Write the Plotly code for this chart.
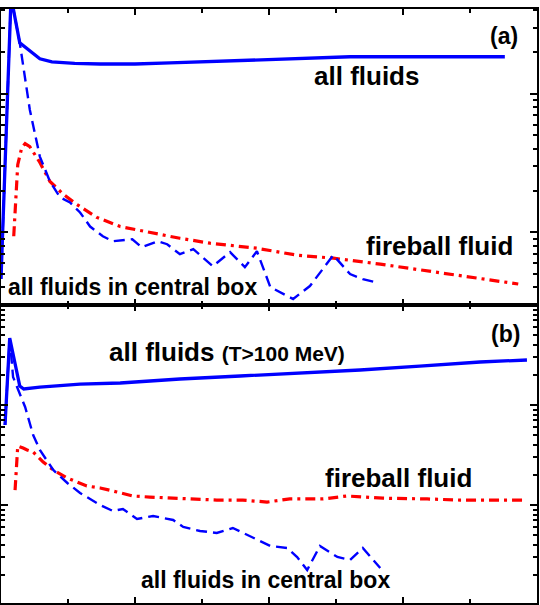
import plotly.graph_objects as go

# panel (a)
xa_all = [0.0, 0.15, 0.28, 0.58, 0.76, 1.1, 1.48, 2.0, 2.52, 2.97, 3.72, 4.46, 5.21, 5.96, 6.7, 7.52]
ya_all = [0.46, 50, 23.3, 17.9, 17.0, 16.6, 16.4, 16.4, 16.7, 17.0, 17.6, 18.2, 18.5, 18.5, 18.5, 18.5]

xa_box = [0.0, 0.15, 0.28, 0.43, 0.58, 0.73, 0.88, 1.03, 1.18, 1.33, 1.52, 1.67, 1.96, 2.10, 2.34,
          2.48, 2.67, 2.87, 3.16, 3.42, 3.64, 3.82, 4.02, 4.36, 4.61, 4.96, 5.21, 5.40, 5.64]
ya_box = [0.46, 50, 23.3, 7.67, 3.52, 2.33, 1.79, 1.64, 1.39, 1.10, 0.936, 0.861, 0.891, 0.780, 0.861,
          0.820, 0.695, 0.755, 0.569, 0.718, 0.560, 0.730, 0.402, 0.330, 0.409, 0.683, 0.499, 0.459, 0.430]

xa_fire = [0.19, 0.22, 0.25, 0.31, 0.36, 0.43, 0.58, 0.73, 0.93, 1.13, 1.43, 1.78, 2.33, 2.67, 3.12,
           3.82, 4.42, 4.96, 5.66, 6.66, 7.72]
ya_fire = [0.936, 1.73, 3.08, 4.09, 4.37, 4.15, 3.19, 2.33, 1.88, 1.59, 1.28, 1.10, 0.968, 0.905, 0.834,
           0.767, 0.683, 0.650, 0.589, 0.499, 0.423]

# panel (b)
xb_all = [0.06, 0.13, 0.28, 0.34, 0.58, 1.18, 1.78, 2.67, 3.57, 4.46, 5.36, 6.25, 7.15, 7.85]
yb_all = [6.31, 46.8, 15.5, 14.45, 15.1, 16.2, 16.6, 18.2, 19.5, 20.9, 22.4, 24.5, 26.9, 28.2]

xb_box = [0.06, 0.13, 0.18, 0.28, 0.36, 0.48, 0.58, 0.78, 0.99, 1.18, 1.48, 1.67, 1.82, 2.03, 2.27,
          2.57, 2.72, 2.97, 3.22, 3.46, 3.67, 4.02, 4.27, 4.42, 4.57, 4.76, 5.02, 5.21, 5.40, 5.66]
yb_box = [6.31, 46.8, 19.05, 13.2, 9.55, 5.01, 3.55, 2.24, 1.66, 1.32, 1.0, 0.871, 0.912, 0.724, 0.776,
          0.708, 0.603, 0.550, 0.525, 0.589, 0.501, 0.389, 0.372, 0.302, 0.224, 0.389, 0.302, 0.282, 0.372, 0.234]

xb_fire = [0.21, 0.25, 0.33, 0.39, 0.48, 0.63, 0.78, 0.99, 1.28, 1.48, 1.73, 1.97, 2.22, 2.67, 3.22,
           3.61, 3.97, 4.31, 4.81, 5.16, 5.70, 6.36, 6.85, 7.85]
yb_fire = [1.41, 3.89, 3.72, 3.55, 3.39, 2.69, 2.24, 1.86, 1.55, 1.48, 1.35, 1.23, 1.20, 1.17, 1.12,
           1.12, 1.07, 1.15, 1.15, 1.23, 1.17, 1.15, 1.12, 1.12]

BLUE = "#0000ff"
RED = "#ff0000"
FONT = "Liberation Sans, Arial, sans-serif"

fig = go.Figure()

def add_panel(xs, ys, xref, yref):
    (x1, x2, x3), (y1, y2, y3) = xs, ys
    fig.add_trace(go.Scatter(x=x3, y=y3, mode="lines", xaxis=xref, yaxis=yref,
                             line=dict(color=RED, width=3.2, dash="10px,5px,3px,5px")))
    fig.add_trace(go.Scatter(x=x2, y=y2, mode="lines", xaxis=xref, yaxis=yref,
                             line=dict(color=BLUE, width=2.4, dash="11px,6px")))
    fig.add_trace(go.Scatter(x=x1, y=y1, mode="lines", xaxis=xref, yaxis=yref,
                             line=dict(color=BLUE, width=3.3)))

add_panel((xa_all, xa_box, xa_fire), (ya_all, ya_box, ya_fire), "x", "y")
add_panel((xb_all, xb_box, xb_fire), (yb_all, yb_box, yb_fire), "x2", "y2")

split = 298 / 594
RA = [-0.525, 1.612]
RB = [-0.98, 2.0]

xax = dict(range=[0, 8], domain=[0, 1], dtick=2,
           ticks="inside", ticklen=6, tickwidth=1.5, tickcolor="black",
           showline=True, linecolor="black", linewidth=2, mirror="allticks",
           showgrid=False, zeroline=False, showticklabels=False,
           minor=dict(dtick=1, ticks="inside", ticklen=4, tickcolor="black", showgrid=False))

def yax(rng, dom, anchor):
    return dict(type="log", range=rng, domain=dom, anchor=anchor, dtick=1,
                ticks="inside", ticklen=7, tickwidth=1.5, tickcolor="black",
                showline=True, linecolor="black", linewidth=2, mirror="allticks",
                showgrid=False, zeroline=False, showticklabels=False,
                minor=dict(dtick="D1", ticks="inside", ticklen=4, tickcolor="black", showgrid=False))

def label(text, x, y, size, xanchor="center"):
    return dict(text="<b>" + text + "</b>", x=x, y=y, xref="paper", yref="paper",
                xanchor=xanchor, yanchor="middle", showarrow=False,
                font=dict(family=FONT, size=size, color="black"))

fig.update_layout(
    width=540, height=605,
    margin=dict(l=1, r=3, t=9, b=2),
    paper_bgcolor="white", plot_bgcolor="white",
    showlegend=False,
    xaxis=dict(xax, anchor="y"),
    yaxis=yax(RA, [split, 1], "x"),
    xaxis2=dict(xax, anchor="y2"),
    yaxis2=yax(RB, [0, split], "x2"),
    annotations=[
        label("(a)", 0.938, 0.955, 23),
        label("all fluids", 0.681, 0.887, 26),
        label("fireball fluid", 0.819, 0.601, 26),
        label("all fluids in central box", 0.246, 0.532, 23),
        label("(b)", 0.942, 0.453, 23),
        label("all fluids <span style='font-size:21px'>(T&gt;100 MeV)</span>", 0.198, 0.4226, 26, "left"),
        label("fireball fluid", 0.7425, 0.210, 26),
        label("all fluids in central box", 0.494, 0.039, 23),
    ],
)

# drop the default page margin so the plot sits at the window corner
fig.write_html("out.html", config={"displayModeBar": False},
               post_script="document.body.style.margin='0px';")
